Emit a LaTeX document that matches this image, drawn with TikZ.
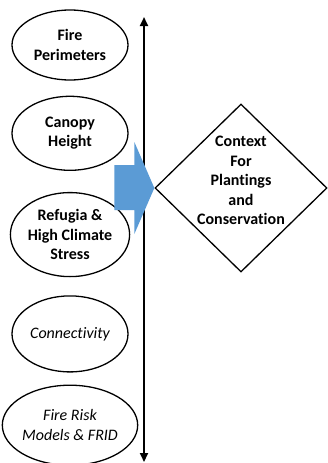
\documentclass[tikz,border=0pt]{standalone}
\usepackage{fontspec}
\setmainfont{Carlito}[Ligatures=NoCommon]
\usetikzlibrary{positioning, arrows.meta, shapes.geometric}
\definecolor{pushblue}{HTML}{5B9BD5}

\begin{document}
\begin{tikzpicture}[
    x=1pt, y=-1pt, every node/.style={font=\fontsize{16}{19.5}\selectfont},
    layer/.style={draw, ellipse, line width=1.3pt, minimum width=116pt, inner sep=0pt, align=center},
    goal/.style={draw, diamond, line width=1.3pt, minimum width=172pt, minimum height=168pt, inner sep=-10pt, align=center, font=\fontsize{16}{19.5}\selectfont\bfseries},
    axis/.style={{Triangle[length=9pt, width=8pt]}-{Triangle[length=9pt, width=8pt]}, line width=2.2pt}
  ]
\useasboundingbox (0,0) rectangle (327,463);

\node[layer, minimum height=70pt, font=\fontsize{16}{19.5}\selectfont\bfseries]
      at (70,45)                                  (fire) {Fire\\Perimeters};

\node[layer, minimum height=74pt, font=\fontsize{16}{19.5}\selectfont\bfseries,
      below=15pt of fire]                         (canopy) {Canopy\\Height};

\node[layer, minimum height=84pt, font=\fontsize{16}{19.5}\selectfont\bfseries,
      below=21pt of canopy]                       (refugia) {Refugia \&\\High Climate\\Stress};

\node[layer, minimum height=76pt, font=\fontsize{16}{19.5}\selectfont\itshape,
      below=18pt of refugia]                      (conn) {Connectivity};

\node[layer, minimum height=80pt, font=\fontsize{16}{19.5}\selectfont\itshape,
      below=12pt of conn]                         (risk) {Fire Risk\\Models \& FRID};

\node[goal] at (241,188)                          (ctx) {Context\\For\\Plantings\\and\\Conservation\rule[-15pt]{0pt}{0pt}};

\coordinate (top) at (144,17);
\coordinate (bot) at (144,462);

  \draw[axis] (bot) -- (top);
  % block arrow into the diamond
  \fill[pushblue] (ctx.west) -- ++(-20,-46) -- ++(0,23) -- ++(-20,0) -- ++(0,45)
                  -- ++(20,0) -- ++(0,24) -- cycle;
\end{tikzpicture}
\end{document}
